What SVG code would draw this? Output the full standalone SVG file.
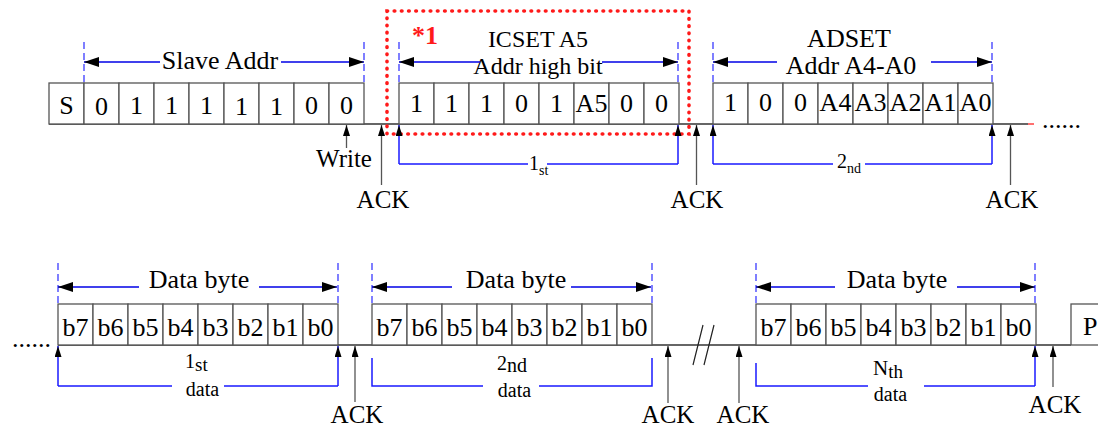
<svg xmlns="http://www.w3.org/2000/svg" width="1098" height="430" viewBox="0 0 1098 430">
<defs>
<style>
text{font-family:"Liberation Serif","Times New Roman",serif;fill:#000}
.c{font-size:26px;text-anchor:middle}
.lbl{font-size:25px;text-anchor:middle}
.big{font-size:26px;text-anchor:middle}
.ic{font-size:24px;text-anchor:middle}
.cell{fill:#fff;stroke:#555;stroke-width:1.3}
.base{stroke:#333;stroke-width:1.5;fill:none}
.dash{stroke:#2a2aff;stroke-width:1.2;stroke-dasharray:7 4;fill:none}
.dim{stroke:#0000e6;stroke-width:1.5;fill:none;marker-end:url(#ah)}
.brk{stroke:#1a1aff;stroke-width:1.5;fill:none}
.brkA{stroke:#1a1aff;stroke-width:1.5;fill:none;marker-end:url(#up)}
.ack{stroke:#555;stroke-width:1.3;fill:none;marker-end:url(#up)}
.red{stroke:#ff1a1a;stroke-width:3.6;fill:none;stroke-dasharray:0.6 6.6;stroke-linecap:round}
.ord{font-size:20px}
.sub{font-size:14px}
</style>
<marker id="ah" viewBox="0 0 15 10" refX="15" refY="5" markerWidth="15" markerHeight="10" markerUnits="userSpaceOnUse" orient="auto">
<path d="M0,0 L15,5 L0,10 z" fill="#000"/>
</marker>
<marker id="up" viewBox="0 0 11 7" refX="11" refY="3.5" markerWidth="11" markerHeight="7" markerUnits="userSpaceOnUse" orient="auto">
<path d="M0,0 L11,3.5 L0,7 z" fill="#000"/>
</marker>
</defs>
<rect width="1098" height="430" fill="#fff"/>

<g id="baselines">
<path class="base" d="M49,124 H1028"/>
<path d="M1028,124 H1034" stroke="#ff4040" stroke-width="1.5"/>
<path class="base" d="M58,345 H1071"/>
<path d="M693,365 L703,325 M704,365 L714,325" stroke="#222" stroke-width="1.2"/>
<text x="1042" y="127.5" style="font-size:26px">......</text>
<text x="12" y="347" style="font-size:26px">......</text>
</g>

<g id="slave-addr">
<rect class="cell" x="49" y="83" width="35" height="41"/>
<rect class="cell" x="84" y="83" width="35" height="41"/>
<rect class="cell" x="119" y="83" width="35" height="41"/>
<rect class="cell" x="154" y="83" width="35" height="41"/>
<rect class="cell" x="189" y="83" width="35" height="41"/>
<rect class="cell" x="224" y="83" width="35" height="41"/>
<rect class="cell" x="259" y="83" width="35" height="41"/>
<rect class="cell" x="294" y="83" width="35" height="41"/>
<rect class="cell" x="329" y="83" width="35" height="41"/>
<text class="c" x="66.5" y="114">S</text>
<text class="c" x="101.5" y="115">0</text>
<text class="c" x="136.5" y="114">1</text>
<text class="c" x="171.5" y="114">1</text>
<text class="c" x="206.5" y="114">1</text>
<text class="c" x="241.5" y="115">1</text>
<text class="c" x="276.5" y="115">1</text>
<text class="c" x="311.5" y="114">0</text>
<text class="c" x="346.5" y="114">0</text>
<text class="big" x="220" y="69">Slave Addr</text>
</g>

<g id="icset">
<rect class="cell" x="399" y="83" width="35" height="41"/>
<rect class="cell" x="434" y="83" width="35" height="41"/>
<rect class="cell" x="469" y="83" width="35" height="41"/>
<rect class="cell" x="504" y="83" width="35" height="41"/>
<rect class="cell" x="539" y="83" width="35" height="41"/>
<rect class="cell" x="574" y="83" width="35" height="41"/>
<rect class="cell" x="609" y="83" width="35" height="41"/>
<rect class="cell" x="644" y="83" width="35" height="41"/>
<text class="c" x="416.5" y="112">1</text>
<text class="c" x="451.5" y="112">1</text>
<text class="c" x="486.5" y="112">1</text>
<text class="c" x="521.5" y="112">0</text>
<text class="c" x="556.5" y="112">1</text>
<text class="c" x="591.5" y="112">A5</text>
<text class="c" x="626.5" y="112">0</text>
<text class="c" x="661.5" y="112">0</text>
<text class="ic" x="538" y="47">ICSET A5</text>
<text class="ic" x="538" y="74">Addr high bit</text>
<text x="412" y="44" style="font-size:26px;font-weight:bold;fill:#ff1a1a">*1</text>
<path class="red" d="M387,11 H689 V134 H387 Z"/>
</g>

<g id="adset">
<rect class="cell" x="713" y="83" width="35" height="41"/>
<rect class="cell" x="748" y="83" width="35" height="41"/>
<rect class="cell" x="783" y="83" width="35" height="41"/>
<rect class="cell" x="818" y="83" width="35" height="41"/>
<rect class="cell" x="853" y="83" width="35" height="41"/>
<rect class="cell" x="888" y="83" width="35" height="41"/>
<rect class="cell" x="923" y="83" width="35" height="41"/>
<rect class="cell" x="958" y="83" width="35" height="41"/>
<text class="c" x="730.5" y="111">1</text>
<text class="c" x="765.5" y="111">0</text>
<text class="c" x="800.5" y="111">0</text>
<text class="c" x="835.5" y="111">A4</text>
<text class="c" x="870.5" y="111">A3</text>
<text class="c" x="905.5" y="111">A2</text>
<text class="c" x="940.5" y="111">A1</text>
<text class="c" x="975.5" y="111">A0</text>
<text class="big" x="849" y="47">ADSET</text>
<text class="big" x="851" y="74">Addr A4-A0</text>
</g>

<g id="data1">
<rect class="cell" x="58" y="304" width="35" height="41"/>
<rect class="cell" x="93" y="304" width="35" height="41"/>
<rect class="cell" x="128" y="304" width="35" height="41"/>
<rect class="cell" x="163" y="304" width="35" height="41"/>
<rect class="cell" x="198" y="304" width="35" height="41"/>
<rect class="cell" x="233" y="304" width="35" height="41"/>
<rect class="cell" x="268" y="304" width="35" height="41"/>
<rect class="cell" x="303" y="304" width="35" height="41"/>
<text class="c" x="75.5" y="336">b7</text>
<text class="c" x="110.5" y="336">b6</text>
<text class="c" x="145.5" y="336">b5</text>
<text class="c" x="180.5" y="336">b4</text>
<text class="c" x="215.5" y="336">b3</text>
<text class="c" x="250.5" y="336">b2</text>
<text class="c" x="285.5" y="336">b1</text>
<text class="c" x="320.5" y="336">b0</text>
<text class="big" x="199" y="288">Data byte</text>
</g>

<g id="data2">
<rect class="cell" x="372" y="304" width="35" height="41"/>
<rect class="cell" x="407" y="304" width="35" height="41"/>
<rect class="cell" x="442" y="304" width="35" height="41"/>
<rect class="cell" x="477" y="304" width="35" height="41"/>
<rect class="cell" x="512" y="304" width="35" height="41"/>
<rect class="cell" x="547" y="304" width="35" height="41"/>
<rect class="cell" x="582" y="304" width="35" height="41"/>
<rect class="cell" x="617" y="304" width="35" height="41"/>
<text class="c" x="389.5" y="336">b7</text>
<text class="c" x="424.5" y="336">b6</text>
<text class="c" x="459.5" y="336">b5</text>
<text class="c" x="494.5" y="336">b4</text>
<text class="c" x="529.5" y="336">b3</text>
<text class="c" x="564.5" y="336">b2</text>
<text class="c" x="599.5" y="336">b1</text>
<text class="c" x="634.5" y="336">b0</text>
<text class="big" x="516" y="288">Data byte</text>
</g>

<g id="data3">
<rect class="cell" x="756" y="304" width="35" height="41"/>
<rect class="cell" x="791" y="304" width="35" height="41"/>
<rect class="cell" x="826" y="304" width="35" height="41"/>
<rect class="cell" x="861" y="304" width="35" height="41"/>
<rect class="cell" x="896" y="304" width="35" height="41"/>
<rect class="cell" x="931" y="304" width="35" height="41"/>
<rect class="cell" x="966" y="304" width="35" height="41"/>
<rect class="cell" x="1001" y="304" width="35" height="41"/>
<text class="c" x="773.5" y="336">b7</text>
<text class="c" x="808.5" y="336">b6</text>
<text class="c" x="843.5" y="336">b5</text>
<text class="c" x="878.5" y="336">b4</text>
<text class="c" x="913.5" y="336">b3</text>
<text class="c" x="948.5" y="336">b2</text>
<text class="c" x="983.5" y="336">b1</text>
<text class="c" x="1018.5" y="336">b0</text>
<text class="big" x="897" y="288">Data byte</text>
</g>

<g id="stop">
<rect class="cell" x="1071" y="304" width="40" height="41"/>
<text x="1083" y="335" style="font-size:26px">P</text>
</g>

<g id="connectors">
<path class="dash" d="M84,42 V83 M364,42 V83 M399,42 V83 M678,42 V83 M713,42 V83 M992,42 V83"/>
<path class="dash" d="M58,263 V304 M338,263 V304 M372,263 V304 M652,263 V304 M756,263 V304 M1035,263 V304"/>
<path class="dim" d="M160,62 H84"/>
<path class="dim" d="M281,62 H364"/>
<path class="dim" d="M480,62 H399"/>
<path class="dim" d="M602,62 H678"/>
<path class="dim" d="M777,62 H713"/>
<path class="dim" d="M931,62 H992"/>
<path class="dim" d="M139,287 H58"/>
<path class="dim" d="M259,287 H337"/>
<path class="dim" d="M452,287 H372"/>
<path class="dim" d="M571,287 H651"/>
<path class="dim" d="M835,287 H756"/>
<path class="dim" d="M957,287 H1035"/>

<path class="ack" d="M346.5,148 V125"/>
<path class="ack" d="M381.5,185 V125"/>
<path class="ack" d="M696.5,185 V125"/>
<path class="ack" d="M1010.5,185 V125"/>
<path class="brkA" d="M399,164 V125"/>
<path class="brkA" d="M678,164 V125"/>
<path class="brk" d="M399,164 H528 M547,164 H678"/>
<path class="brkA" d="M713,164 V125"/>
<path class="brkA" d="M992,164 V125"/>
<path class="brk" d="M713,164 H833 M865,164 H992"/>

<path class="ack" d="M355,402 V346"/>
<path class="ack" d="M668,403 V346"/>
<path class="ack" d="M739,403 V346"/>
<path class="ack" d="M1053,387 V346"/>
<path class="brkA" d="M58,386 V346"/>
<path class="brkA" d="M338,386 V346"/>
<path class="brk" d="M58,386 H172 M224,386 H338"/>
<path class="brk" d="M372,358 V386 H483 M539,386 H652 V358"/>
<path class="brk" d="M756,363 V386 H868 M924,386 H1035"/>
<path class="brkA" d="M1035,386 V346"/>
</g>

<g id="labels">
<text class="lbl" x="344" y="167">Write</text>
<text class="lbl" x="383" y="208">ACK</text>
<text class="lbl" x="697" y="208">ACK</text>
<text class="lbl" x="1012" y="208">ACK</text>
<text class="lbl" x="357" y="423">ACK</text>
<text class="lbl" x="668" y="423">ACK</text>
<text class="lbl" x="743" y="423">ACK</text>
<text class="lbl" x="1055" y="413">ACK</text>
<text x="529" y="170" class="ord">1<tspan class="sub" dy="5">st</tspan></text>
<text x="837" y="168" class="ord">2<tspan class="sub" dy="5">nd</tspan></text>
<text x="185" y="368" style="font-size:20px">1<tspan dy="3" style="font-size:19px">st</tspan></text>
<text x="202.5" y="396" style="font-size:20px;text-anchor:middle">data</text>
<text x="497" y="370" style="font-size:20px">2<tspan dy="2" style="font-size:20px">nd</tspan></text>
<text x="514.5" y="397" style="font-size:20px;text-anchor:middle">data</text>
<text x="873" y="375" style="font-size:21px">N<tspan dy="3" style="font-size:19px">th</tspan></text>
<text x="890.5" y="401" style="font-size:20px;text-anchor:middle">data</text>
</g>
</svg>
